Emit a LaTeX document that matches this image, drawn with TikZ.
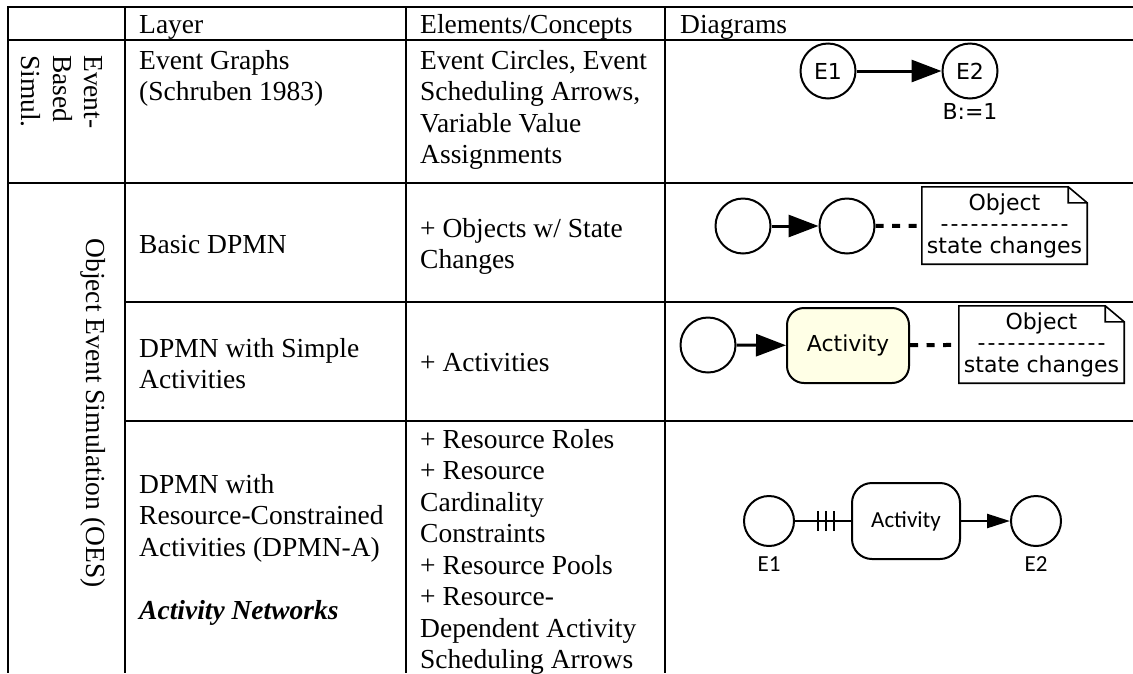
\documentclass[tikz,border=0pt]{standalone}
\usepackage{fontspec}
\setmainfont{Liberation Serif}
\newfontfamily\diagfont{DejaVu Sans}
\newfontfamily\calfont{Carlito}
\usetikzlibrary{arrows.meta,positioning}
\definecolor{actyellow}{RGB}{255,255,230}
\newcommand\dashrow{\hbox to 130pt{\xleaders\hbox to 10pt{\hss-\hss}\hfill}}

\begin{document}
\begin{tikzpicture}[x=1pt,y=-1pt,
    tablerule/.style={line width=2.2pt},
    headcell/.style={anchor=base west,inner sep=0pt,font=\fontsize{27.5}{31.5}\selectfont},
    cell/.style={anchor=north west,inner sep=0pt,align=left,font=\fontsize{27.5}{31.5}\selectfont},
    rotcell/.style={rotate=-90,inner sep=0pt,align=left,font=\fontsize{27.5}{31.5}\selectfont},
    evt/.style={circle,draw,line width=2pt,minimum size=55pt,inner sep=0pt,font=\diagfont\fontsize{22}{22}\selectfont},
    act/.style={rectangle,draw,line width=2pt,rounded corners=17pt,minimum width=122pt,minimum height=75pt,font=\diagfont\fontsize{22}{22}\selectfont},
    sched/.style={line width=3pt,-{Triangle[length=30pt,width=22pt]}},
    dotlink/.style={line width=4pt,dash pattern=on 8pt off 8.5pt},
    objnote/.style={minimum width=165pt,minimum height=77pt,inner sep=0pt,align=center,font=\diagfont\fontsize{22}{21.5}\selectfont},
    calfont/.style={font=\calfont\fontsize{23}{23}\selectfont}]
	\useasboundingbox (0,0) rectangle (1133,673);

	% table rules
	\draw[tablerule] (1133,7) -| (8,673);
	\draw[tablerule] (8,40) -- (1133,40);
	\draw[tablerule] (8,183) -- (1133,183);
	\draw[tablerule] (125,302) -- (1133,302);
	\draw[tablerule] (125,421) -- (1133,421);
	\foreach \x in {125,406,665} \draw[tablerule] (\x,7) -- (\x,673);

	% header
	\node[headcell] (hlay) at (139,33) {Layer};
	\node[headcell] (hcon) at (420,33) {Elements/Concepts};
	\node[headcell] (hdia) at (680,33) {Diagrams};

	% first column
	\node[rotcell,anchor=north west] (ebs) at (107,55) {\strut Event-\\Based\\Simul.};
	\node[rotcell] (oes) at (93,413) {Object Event Simulation (OES)};

	% layers and concepts
	\node[cell] (layA) at (139,47) {\strut Event Graphs\\(Schruben 1983)};
	\node[cell] (conA) at (420,47) {\strut Event Circles, Event\\Scheduling Arrows,\\Variable Value\\Assignments};
	\node[cell] (layB) at (139,231) {\strut Basic DPMN};
	\node[cell] (conB) at (420,215) {\strut + Objects w/ State\\Changes};
	\node[cell] (layC) at (139,335) {\strut DPMN with Simple\\Activities};
	\node[cell] (conC) at (420,349) {\strut + Activities};
	\node[cell] (layD) at (139,471) {\strut DPMN with\\Resource-Constrained\\Activities (DPMN-A)\\[31.5pt]\textbf{\textit{Activity Networks}}};
	\node[cell] (conD) at (420,426) {\strut + Resource Roles\\+ Resource\\Cardinality\\Constraints\\+ Resource Pools\\+ Resource-\\Dependent Activity\\Scheduling Arrows};

	% event graph
	\node[evt] (e1a) at (828,71) {E1};
	\node[evt] (e2a) at (970,71) {E2};
	\draw[sched] (e1a) -- (e2a);
	\node[below,inner sep=4pt,font=\diagfont\fontsize{22}{22}\selectfont] (asg) at (e2a.south) {B:=1};

	% basic DPMN
	\node[evt] (e1b) at (743,226) {};
	\node[evt] (e2b) at (847,226) {};
	\node[objnote] (noteb) at (1004.5,225.5) {Object\\\dashrow\\state changes};
	\draw[sched] (e1b) -- (e2b);
	\draw[dotlink] (e2b) -- (noteb);

	% simple activities
	\node[evt] (e1c) at (708,345) {};
	\node[act,fill=actyellow] (actc) at (848,345.5) {Activity};
	\node[objnote] (notec) at (1041.5,344.5) {Object\\\dashrow\\state changes};
	\draw[sched] (e1c) -- (actc);
	\draw[dotlink] (actc) -- (notec);

	\foreach \n in {noteb,notec}
		\draw[line width=1.6pt] (\n.north west) -- ([xshift=-19pt]\n.north east) -- ([yshift=-16pt]\n.north east) -- (\n.south east) -- (\n.south west) -- cycle
			([xshift=-19pt]\n.north east) |- ([yshift=-16pt]\n.north east);

	% resource-constrained activities
	\node[evt,minimum size=50pt] (e1d) at (769,521) {};
	\node[act,calfont,minimum width=108pt,minimum height=76pt,rounded corners=20pt] (actd) at (906,521) {Activity};
	\node[evt,minimum size=50pt] (e2d) at (1036,521) {};
	\node[below=6pt of e1d,calfont] (lbl1) {E1};
	\node[below=6pt of e2d,calfont] (lbl2) {E2};
	\draw[line width=1.3pt] (e1d) -- (actd);
	\foreach \dx in {23,31,39}
		\draw[line width=1.3pt] ([xshift=\dx pt,yshift=10pt]e1d.east) -- ++(0,20);
	\draw[line width=2.5pt,-{Triangle[length=23pt,width=14pt]}] (actd) -- (e2d);
\end{tikzpicture}
\end{document}
